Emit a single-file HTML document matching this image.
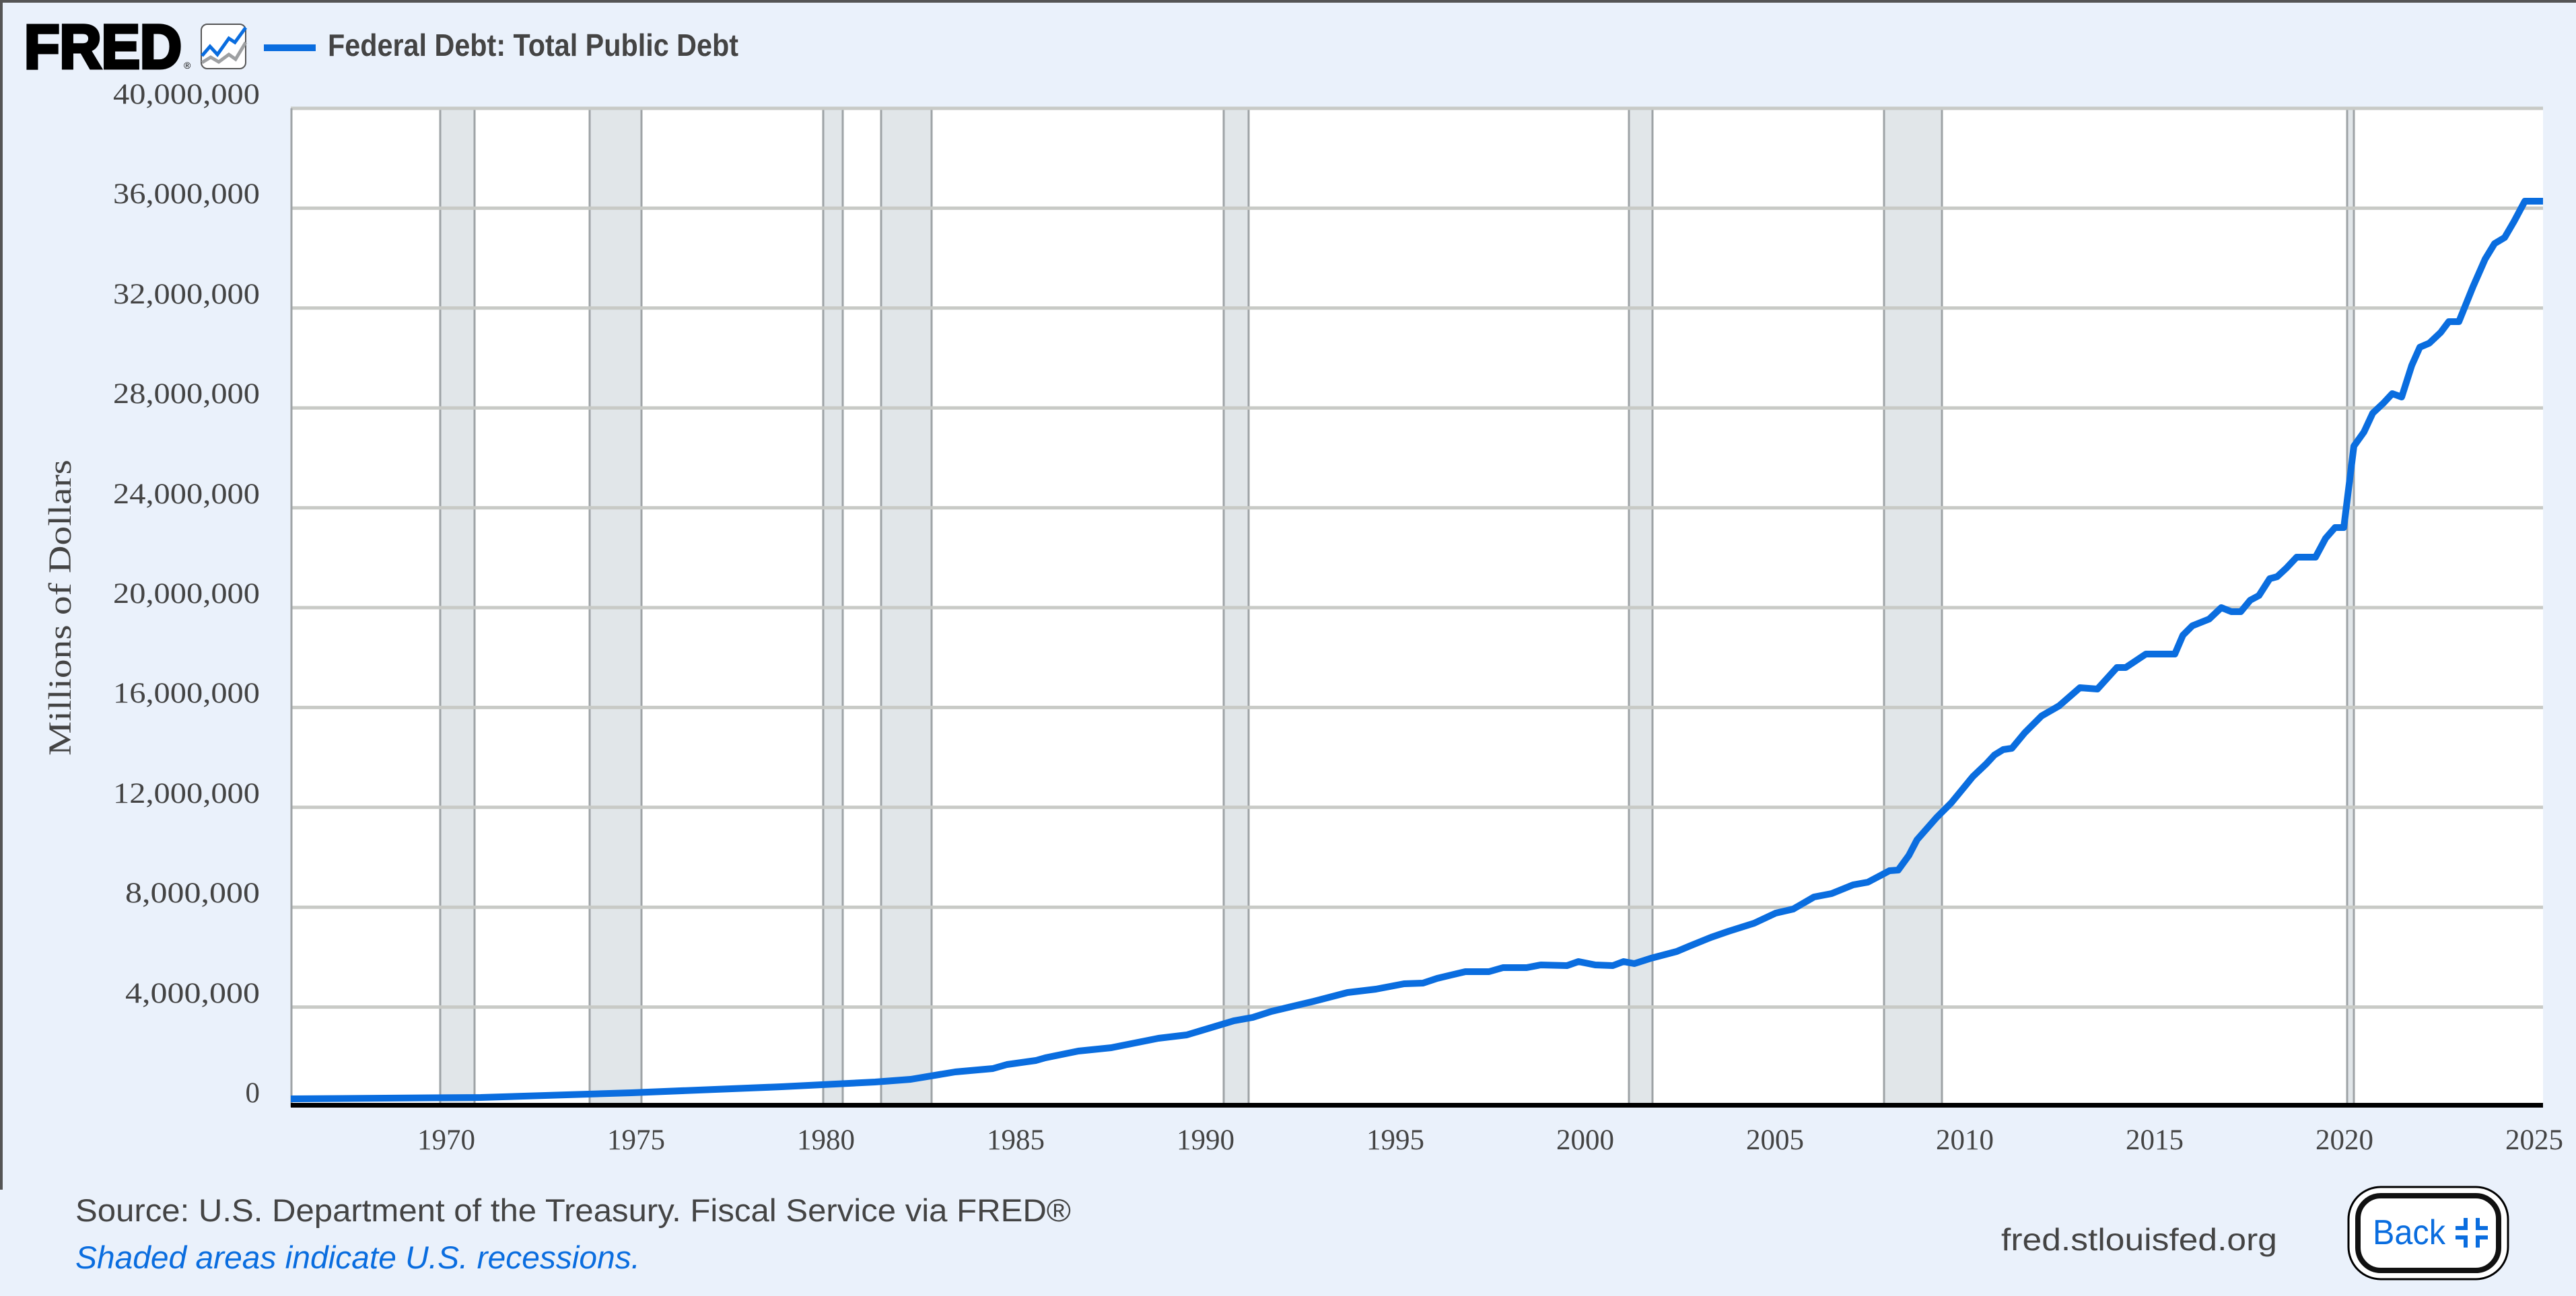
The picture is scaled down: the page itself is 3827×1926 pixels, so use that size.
<!DOCTYPE html>
<html><head><meta charset="utf-8"><style>
html,body{margin:0;padding:0;background:#eaf1fb;}
svg{display:block;}
</style></head><body>
<svg width="3827" height="1926" viewBox="0 0 3827 1926" xmlns="http://www.w3.org/2000/svg">
<rect x="0" y="0" width="3827" height="1926" fill="#eaf1fb"/>
<rect x="0" y="0" width="3827" height="4" fill="#555"/>
<rect x="0" y="0" width="4" height="1768" fill="#555"/>

<!-- header -->
<text x="36" y="101" font-family="Liberation Sans, sans-serif" font-weight="bold" font-size="92" fill="#000" stroke="#000" stroke-width="5" textLength="234" lengthAdjust="spacingAndGlyphs">FRED</text>
<text x="273" y="102" font-family="Liberation Sans, sans-serif" font-size="14" fill="#000">®</text>
<rect x="299" y="36" width="66" height="66" rx="9" fill="#fff" stroke="#555" stroke-width="2"/>
<polyline points="300,93 313,85 325,92 340,81 350,88 365,63" fill="none" stroke="#9ea0a2" stroke-width="5"/>
<polyline points="300,83 312,69 323,81 340,57 349,63 365,41" fill="none" stroke="#0a6ddf" stroke-width="5"/>
<rect x="392" y="66" width="77" height="10" fill="#0a6ddf"/>
<text x="487" y="83" font-family="Liberation Sans, sans-serif" font-weight="bold" font-size="46" fill="#444" textLength="610" lengthAdjust="spacingAndGlyphs">Federal Debt: Total Public Debt</text>

<!-- plot bg -->
<rect x="432" y="161" width="3346" height="1484" fill="#fff"/>
<!-- recessions -->
<g fill="#e1e6e9" stroke="#9ea3a6" stroke-width="3">
<rect x="654" y="161" width="51" height="1482"/>
<rect x="876" y="161" width="77" height="1482"/>
<rect x="1223" y="161" width="29" height="1482"/>
<rect x="1309" y="161" width="75" height="1482"/>
<rect x="1818" y="161" width="37" height="1482"/>
<rect x="2420" y="161" width="35" height="1482"/>
<rect x="2799" y="161" width="86" height="1482"/>
<rect x="3487" y="161" width="10" height="1482"/>
</g>
<!-- gridlines -->
<g stroke="#c8cac6" stroke-width="5">
<line x1="432" x2="3778" y1="161" y2="161"/>
<line x1="432" x2="3778" y1="309.4" y2="309.4"/>
<line x1="432" x2="3778" y1="457.8" y2="457.8"/>
<line x1="432" x2="3778" y1="606.2" y2="606.2"/>
<line x1="432" x2="3778" y1="754.6" y2="754.6"/>
<line x1="432" x2="3778" y1="903" y2="903"/>
<line x1="432" x2="3778" y1="1051.4" y2="1051.4"/>
<line x1="432" x2="3778" y1="1199.8" y2="1199.8"/>
<line x1="432" x2="3778" y1="1348.2" y2="1348.2"/>
<line x1="432" x2="3778" y1="1496.6" y2="1496.6"/>
</g>
<line x1="433" y1="161" x2="433" y2="1645" stroke="#9ea3a6" stroke-width="3"/>
<rect x="432" y="1639" width="3346" height="7" fill="#000"/>

<!-- series -->
<polyline fill="none" stroke="#0a6ddf" stroke-width="10" stroke-linejoin="round" points="
432,1633 714,1631 938,1624 1161,1615 1300,1608 1353,1604 1419,1593 1475,1588 1496,1582 1539,1576 1553,1572 1602,1562 1651,1557 1721,1543 1763,1538 1833,1517 1861,1512 1889,1503 1952,1488 2002,1475 2044,1470 2086,1462 2114,1461 2135,1454 2177,1444 2212,1444 2233,1438 2268,1438 2289,1434 2328,1435 2345,1429 2370,1434 2396,1435 2412,1429 2428,1432 2453,1424 2491,1414 2510,1406 2542,1393 2568,1384 2606,1372 2638,1357 2664,1351 2695,1333 2721,1328 2753,1315 2775,1311 2807,1294 2820,1293 2836,1271 2848,1248 2877,1215 2899,1193 2931,1154 2951,1135 2963,1122 2976,1114 2989,1112 3008,1089 3033,1064 3059,1049 3090,1022 3116,1024 3145,992 3158,992 3188,972 3231,972 3243,944 3257,930 3282,920 3300,903 3315,909 3329,909 3343,892 3356,885 3372,860 3383,857 3397,844 3412,828 3440,828 3455,800 3469,784 3482,784 3497,663 3512,642 3525,614 3541,599 3554,585 3568,590 3583,543 3595,516 3609,510 3626,494 3638,478 3653,478 3674,426 3692,385 3706,362 3721,353 3735,329 3751,299 3778,299"/>

<!-- y labels -->
<g font-family="Liberation Serif, serif" font-size="43" fill="#444" text-anchor="end">
<text x="386" y="154" textLength="218" lengthAdjust="spacingAndGlyphs">40,000,000</text>
<text x="386" y="302" textLength="218" lengthAdjust="spacingAndGlyphs">36,000,000</text>
<text x="386" y="451" textLength="218" lengthAdjust="spacingAndGlyphs">32,000,000</text>
<text x="386" y="599" textLength="218" lengthAdjust="spacingAndGlyphs">28,000,000</text>
<text x="386" y="748" textLength="218" lengthAdjust="spacingAndGlyphs">24,000,000</text>
<text x="386" y="896" textLength="218" lengthAdjust="spacingAndGlyphs">20,000,000</text>
<text x="386" y="1044" textLength="218" lengthAdjust="spacingAndGlyphs">16,000,000</text>
<text x="386" y="1193" textLength="218" lengthAdjust="spacingAndGlyphs">12,000,000</text>
<text x="386" y="1341" textLength="200" lengthAdjust="spacingAndGlyphs">8,000,000</text>
<text x="386" y="1490" textLength="200" lengthAdjust="spacingAndGlyphs">4,000,000</text>
<text x="386" y="1638">0</text>
</g>
<text transform="translate(105,903) rotate(-90)" font-family="Liberation Serif, serif" font-size="48" fill="#444" text-anchor="middle" textLength="440" lengthAdjust="spacingAndGlyphs">Millions of Dollars</text>

<!-- x labels -->
<g font-family="Liberation Serif, serif" font-size="43" fill="#444" text-anchor="middle">
<text x="663" y="1708">1970</text>
<text x="945" y="1708">1975</text>
<text x="1227" y="1708">1980</text>
<text x="1509" y="1708">1985</text>
<text x="1791" y="1708">1990</text>
<text x="2073" y="1708">1995</text>
<text x="2355" y="1708">2000</text>
<text x="2637" y="1708">2005</text>
<text x="2919" y="1708">2010</text>
<text x="3201" y="1708">2015</text>
<text x="3483" y="1708">2020</text>
<text x="3765" y="1708">2025</text>
</g>

<!-- footer -->
<text x="112" y="1815" font-family="Liberation Sans, sans-serif" font-size="47" fill="#444" textLength="1479" lengthAdjust="spacingAndGlyphs">Source: U.S. Department of the Treasury. Fiscal Service via FRED®</text>
<text x="112" y="1885" font-family="Liberation Sans, sans-serif" font-style="italic" font-size="47" fill="#0a6ddf" textLength="839" lengthAdjust="spacingAndGlyphs">Shaded areas indicate U.S. recessions.</text>
<text x="2973" y="1858" font-family="Liberation Sans, sans-serif" font-size="46" fill="#444" textLength="410" lengthAdjust="spacingAndGlyphs">fred.stlouisfed.org</text>

<!-- back button -->
<rect x="3489" y="1764" width="237" height="137" rx="48" fill="#fff" stroke="#000" stroke-width="3"/>
<rect x="3503" y="1777" width="209" height="111" rx="34" fill="#fff" stroke="#111" stroke-width="8"/>
<text x="3525" y="1849" font-family="Liberation Sans, sans-serif" font-size="52" fill="#0a6ddf" textLength="108" lengthAdjust="spacingAndGlyphs">Back</text>
<g fill="#0a6ddf">
<path d="M3660,1810 h6 v18 h-18 v-6 h12 z"/>
<path d="M3678,1810 h6 v12 h12 v6 h-18 z"/>
<path d="M3648,1836 h18 v18 h-6 v-12 h-12 z"/>
<path d="M3678,1836 h18 v6 h-12 v12 h-6 z"/>
</g>
</svg>
</body></html>
